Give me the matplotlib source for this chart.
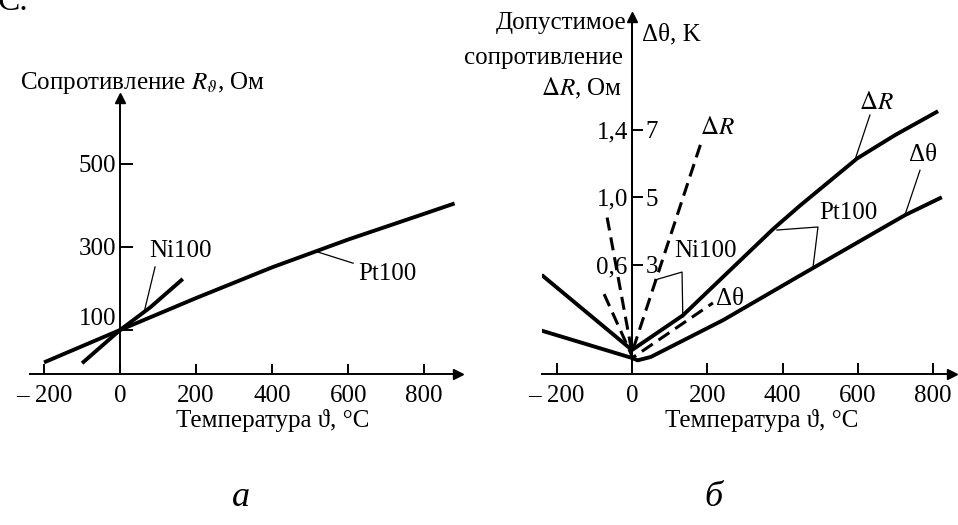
import matplotlib
matplotlib.use('Agg')
import matplotlib.pyplot as plt
from matplotlib.transforms import ScaledTranslation

W, H = 958, 525
plt.rcParams['font.family'] = ['Liberation Serif', 'DejaVu Serif']
plt.rcParams['mathtext.fontset'] = 'stix'
plt.rcParams['font.size'] = 18

# ---------------- data: panel "а" (resistance vs temperature) ----------------
pt_T = [-200, 0, 200, 400, 600, 800, 880]
pt_R = [22, 100, 177, 251, 318, 380, 405]
ni_T = [-100, 0, 80, 165]
ni_R = [20, 100, 155, 223]

a_xticks = [-200, 0, 200, 400, 600, 800]
a_xticklabels = ['– 200', '0', '200', '400', '600', '800']
a_yticks = [100, 300, 500]
a_yticklabels = ['100', '300', '500']

# ---------------- data: panel "б" (tolerances) ----------------
pt_dR_T = [-240, 0, 135, 374, 446, 598, 700, 813]
pt_dR = [0.54, 0.095, 0.30, 0.81, 0.95, 1.23, 1.37, 1.51]          # Ohm
pt_dth_T = [-240, 0, 15, 50, 242, 446, 725, 823]
pt_dth = [1.05, 0.24, 0.17, 0.27, 1.36, 2.68, 4.47, 5.0]           # K
ni_dR_T = [-66, 0, 186]
ni_dR = [0.88, 0.08, 1.34]                                         # Ohm
ni_dth_T = [-74, 2, 215]
ni_dth = [2.13, 0.25, 1.87]                                        # K

b_xticks = [-200, 0, 200, 400, 600, 800]
b_xticklabels = ['– 200', '0', '200', '400', '600', '800']
b_Rticks = [0.6, 1.0, 1.4]
b_Rticklabels = ['0,6', '1,0', '1,4']
b_Kticks = [3, 5, 7]
b_Kticklabels = ['3', '5', '7']

fig = plt.figure(figsize=(W / 100, H / 100), dpi=100)


def fbox(x0, y0, x1, y1):
    return [x0 / W, 1 - y1 / H, (x1 - x0) / W, (y1 - y0) / H]


def fp(x, y):
    return x / W, 1 - y / H


LW = 2.8
AXLW = 1.4
DASH = (0, (4.3, 2.3))


def style_axes(ax):
    for s in ('top', 'right'):
        ax.spines[s].set_visible(False)
    ax.spines['left'].set_position(('data', 0))
    ax.spines['left'].set_linewidth(AXLW)
    ax.spines['bottom'].set_linewidth(AXLW)
    ax.plot(1, 0, marker='>', ms=7, color='k', transform=ax.transAxes, clip_on=False)
    ax.plot(0, 1, marker='^', ms=7, color='k', transform=ax.get_xaxis_transform(), clip_on=False)


# ================= panel а =================
axA = fig.add_axes(fbox(30, 98, 458, 374))
axA.set_xlim(-237, 889)
axA.set_ylim(-6, 659)
style_axes(axA)
axA.set_xticks(a_xticks)
axA.set_xticklabels(a_xticklabels)
axA.set_yticks(a_yticks)
axA.set_yticklabels(a_yticklabels)
axA.tick_params(axis='x', direction='in', length=7, width=AXLW, pad=8)
axA.tick_params(axis='y', direction='in', length=9, width=AXLW, pad=3)
# the "100" label sits a little above its tick in the reference
lbl100 = axA.yaxis.get_major_ticks()[0].label1
lbl100.set_transform(lbl100.get_transform() + ScaledTranslation(0, 0.14, fig.dpi_scale_trans))

axA.plot(pt_T, pt_R, color='k', lw=LW, solid_capstyle='butt')
axA.plot(ni_T, ni_R, color='k', lw=LW, solid_capstyle='butt')

axA.text(158, 290, 'Ni100', ha='center', va='center')
axA.plot([92, 64], [252, 146], color='k', lw=0.9)
axA.text(703, 235, 'Pt100', ha='center', va='center')
axA.plot([613, 513], [261, 290], color='k', lw=0.9)

fig.text(*fp(20, 83), r'Сопротивление $R_\vartheta$, Ом', ha='left', va='center')
fig.text(*fp(273, 421), 'Температура ϑ, °C', ha='center', va='center')
fig.text(*fp(241, 497), 'а', ha='center', va='center', fontsize=26, style='italic')
fig.text(*fp(-2, 10), 'С.', ha='left', va='baseline', fontsize=24)

# ================= panel б =================
axB = fig.add_axes(fbox(542, 17, 952, 374))
axB.set_xlim(-239, 850)
axB.set_ylim(-0.047, 2.068)
style_axes(axB)
axB.set_xticks(b_xticks)
axB.set_xticklabels(b_xticklabels)
axB.set_yticks(b_Rticks)
axB.set_yticklabels(b_Rticklabels)
axB.tick_params(axis='x', direction='in', length=8, width=AXLW, pad=8)
axB.tick_params(axis='y', direction='in', length=8, width=AXLW, pad=3)

axB2 = axB.twinx()
axB2.set_ylim(-0.047 * 5, 2.068 * 5)
for s in ('top', 'left', 'bottom'):
    axB2.spines[s].set_visible(False)
axB2.spines['right'].set_position(('data', 0))
axB2.spines['right'].set_linewidth(AXLW)
axB2.set_yticks(b_Kticks)
axB2.set_yticklabels(b_Kticklabels)
axB2.tick_params(axis='y', direction='out', length=0, pad=10)

axB.plot(pt_dR_T, pt_dR, color='k', lw=LW, solid_capstyle='butt')
axB2.plot(pt_dth_T, pt_dth, color='k', lw=LW, solid_capstyle='butt')
axB.plot(ni_dR_T, ni_dR, color='k', lw=2.2, linestyle=DASH)
axB2.plot(ni_dth_T, ni_dth, color='k', lw=2.2, linestyle=DASH)

# labels & leaders (in ΔR data units)
axB.text(226, 1.41, r'$\Delta R$', ha='center', va='center')
axB.text(648, 1.56, r'$\Delta R$', ha='center', va='center')
axB.plot([632, 592], [1.487, 1.22], color='k', lw=0.9)
axB.text(773, 1.25, 'Δθ', ha='center', va='center')
axB.plot([765, 725], [1.16, 0.895], color='k', lw=0.9)
axB.text(576, 0.907, 'Pt100', ha='center', va='center')
axB.plot([385, 494, 481], [0.806, 0.824, 0.587], color='k', lw=0.9)
axB.text(194, 0.68, 'Ni100', ha='center', va='center')
axB.plot([61, 133, 135], [0.51, 0.557, 0.29], color='k', lw=0.9)
axB.text(260, 0.40, 'Δθ', ha='center', va='center')

fig.text(*fp(627, 23), 'Допустимое', ha='right', va='center')
fig.text(*fp(623, 58), 'сопротивление', ha='right', va='center')
fig.text(*fp(622, 88), r'$\Delta R$, Ом', ha='right', va='center')
fig.text(*fp(642, 34), 'Δθ, K', ha='left', va='center')
fig.text(*fp(762, 421), 'Температура ϑ, °C', ha='center', va='center')
fig.text(*fp(713, 497), 'б', ha='center', va='center', fontsize=26, style='italic')

fig.savefig('out.png', dpi=100)
